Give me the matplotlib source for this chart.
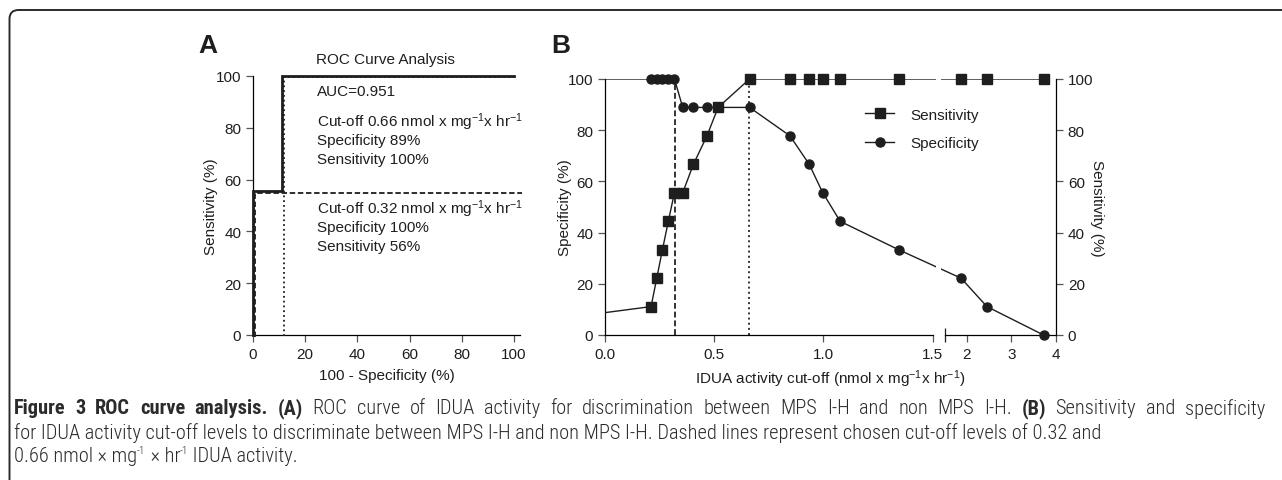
import numpy as np
import matplotlib
matplotlib.use("Agg")
import matplotlib.pyplot as plt
from matplotlib import font_manager
from matplotlib.font_manager import FontProperties
from matplotlib.lines import Line2D
from matplotlib.patches import FancyBboxPatch, Rectangle
from matplotlib.transforms import IdentityTransform, offset_copy

# panel A: ROC curve
roc_fpr = [0, 0, 11.1, 11.1, 100]
roc_tpr = [0, 55.6, 55.6, 100, 100]
# chosen cut-offs as (100 - specificity, sensitivity)
cut_fpr = [0.0, 11.1]
cut_tpr = [55.6, 100]

# panel B: sensitivity / specificity vs IDUA cut-off
cutoff = [-0.78, 0.211, 0.237, 0.263, 0.290, 0.318, 0.356, 0.405, 0.467, 0.518,
          0.662, 0.847, 0.935, 0.997, 1.077, 1.345, 1.87, 2.45, 3.72]
sensitivity = [0, 11.1, 22.2, 33.3, 44.4, 55.6, 55.6, 66.7, 77.8, 88.9,
               100, 100, 100, 100, 100, 100, 100, 100, 100]
specificity = [100, 100, 100, 100, 100, 100, 88.9, 88.9, 88.9, 88.9,
               88.9, 77.8, 66.7, 55.6, 44.4, 33.3, 22.2, 11.1, 0]
chosen_cutoffs = [0.32, 0.66]
b_xticks = [0, 0.5, 1.0, 1.5, 2, 3, 4]
b_xticklabels = ["0.0", "0.5", "1.0", "1.5", "2", "3", "4"]

plt.rcParams["font.family"] = ["Liberation Sans", "DejaVu Sans"]
plt.rcParams["mathtext.fontset"] = "custom"
plt.rcParams["mathtext.rm"] = "Liberation Sans"
plt.rcParams["mathtext.it"] = "Liberation Sans:italic"
plt.rcParams["axes.linewidth"] = 0.9

W, H = 1282, 481
fig = plt.figure(figsize=(W / 100, H / 100), dpi=100)
ink = "#1e1e1e"
fs = 11

# ---- panel A ----
axA = fig.add_axes([253 / W, (H - 336) / H, (520 - 253) / W, (336 - 77) / H])
axA.set_xlim(0, 102.3)
axA.set_ylim(0, 100)
axA.spines[["top", "right"]].set_visible(False)
axA.spines["left"].set_bounds(0, 100)
axA.set_xticks(range(0, 101, 20))
axA.set_yticks(range(0, 101, 20))
axA.tick_params(labelsize=fs, length=5, width=0.9, color="#555555", labelcolor=ink)
axA.set_xlabel("100 - Specificity (%)", fontsize=fs, color=ink, labelpad=5)
axA.set_ylabel("Sensitivity (%)", fontsize=fs, color=ink, labelpad=-1.5)

axA.plot(roc_fpr, roc_tpr, color=ink, lw=2.0, clip_on=False, zorder=4,
         solid_joinstyle="miter")
xmax = axA.get_xlim()[1]
sh_dot = offset_copy(axA.transData, fig=fig, x=1.6, y=-1.4, units="dots")
sh_dash = offset_copy(axA.transData, fig=fig, x=1.8, y=-1.8, units="dots")
# 0.66 cut-off (dotted)
axA.plot([cut_fpr[1], cut_fpr[1], 100], [0, cut_tpr[1], cut_tpr[1]], ls=":",
         color=ink, lw=1.3, transform=sh_dot, clip_on=False, zorder=3)
# 0.32 cut-off (dashed)
axA.plot([cut_fpr[0], cut_fpr[0], xmax], [0, cut_tpr[0], cut_tpr[0]], ls=(0, (3, 1.5)),
         color=ink, lw=1.3, transform=sh_dash, clip_on=False, zorder=3)

axA.text(24, 106.6, "ROC Curve Analysis", fontsize=fs, color=ink, va="center")
txt_x = 24.5
sup = r"$^{\mathrm{-1}}$"
axA.text(txt_x, 94.3, "AUC=0.951", fontsize=fs, color=ink, va="center")
axA.text(txt_x, 82.7, "Cut-off 0.66 nmol x mg" + sup + "x hr" + sup, fontsize=fs, color=ink, va="center")
axA.text(txt_x, 75.4, "Specificity 89%", fontsize=fs, color=ink, va="center")
axA.text(txt_x, 68.1, "Sensitivity 100%", fontsize=fs, color=ink, va="center")
axA.text(txt_x, 49.0, "Cut-off 0.32 nmol x mg" + sup + "x hr" + sup, fontsize=fs, color=ink, va="center")
axA.text(txt_x, 41.7, "Specificity 100%", fontsize=fs, color=ink, va="center")
axA.text(txt_x, 34.4, "Sensitivity 56%", fontsize=fs, color=ink, va="center")

# ---- panel B (broken x axis) ----
k = 44.5 / 218.0
g = 12.0 / 218.0


def fwd(x):
    x = np.asarray(x, dtype=float)
    return np.where(x <= 1.5, x, 1.5 + g + (x - 1.5) * k)


def inv(u):
    u = np.asarray(u, dtype=float)
    return np.where(u <= 1.5, u, np.where(u < 1.5 + g, 1.5, 1.5 + (u - 1.5 - g) / k))


axB = fig.add_axes([605 / W, (H - 336) / H, (1056 - 605) / W, (336 - 80) / H])
axB.set_xscale("function", functions=(fwd, inv))
axB.set_xlim(0, 4)
axB.set_ylim(0, 100)
axB.spines[["top", "right"]].set_visible(False)
axB.spines["left"].set_bounds(0, 100)
axB.spines["bottom"].set_bounds(0, 1.5)
axB.plot([1.5 + 1e-9, 4], [0, 0], color="black", lw=0.9, transform=axB.get_xaxis_transform(),
         clip_on=False, zorder=3)
axB.set_xticks(b_xticks)
axB.set_xticklabels(b_xticklabels)
axB.set_xticks([1.5, 1.5 + 1e-9], minor=True)
axB.tick_params(axis="x", which="minor", direction="inout", length=10, width=0.9, color=ink)
axB.set_yticks(range(0, 101, 20))
axB.tick_params(which="major", labelsize=fs, length=5, width=0.9, color="#555555", labelcolor=ink)
axB.set_ylabel("Specificity (%)", fontsize=fs, color=ink, labelpad=-3)
axB.set_xlabel("IDUA activity cut-off (nmol x mg" + sup + "x hr" + sup + ")", fontsize=fs,
               color=ink, labelpad=5)

for c, ls in zip(chosen_cutoffs, [(0, (3, 1.5)), ":"]):
    axB.plot([c, c], [0, 100], ls=ls, color="#333333", lw=1.4, zorder=2)

cx = np.array(cutoff)
shown = cx >= 0
series = [(sensitivity, "s", "Sensitivity"), (specificity, "o", "Specificity")]
handles = []
for vals, mk, name in series:
    vals = np.array(vals)
    axB.plot(cx, vals, color=ink, lw=1.0, zorder=3)
    axB.plot(cx[shown], vals[shown], ls="none", marker=mk, ms=6.5, color=ink, zorder=4,
             clip_on=False)
    handles.append(Line2D([], [], color=ink, lw=1.0, marker=mk, ms=6.5, label=name))
# hide data lines inside the axis break
axB.add_patch(Rectangle((0.7333, 0.006), 0.0117, 1.0, transform=axB.transAxes,
                        facecolor="white", edgecolor="none", zorder=3.5))
axB.set_xlim(0, 4)

axB.legend(handles=handles, loc="upper left", bbox_to_anchor=(0.5765, 0.888), frameon=False,
           fontsize=fs, handlelength=1.9, handletextpad=1.1, labelspacing=0.95, borderpad=0,
           borderaxespad=0, labelcolor=ink)

axB2 = axB.twinx()
axB2.set_ylim(0, 100)
axB2.spines[["top", "left", "bottom"]].set_visible(False)
axB2.spines["right"].set_bounds(0, 100)
axB2.set_yticks(range(0, 101, 20))
axB2.tick_params(labelsize=fs, length=5, width=0.9, color="#555555", labelcolor=ink)
axB2.set_ylabel("Sensitivity (%)", fontsize=fs, color=ink, rotation=270, labelpad=7.5)

fig.text(208 / W, 1 - 46 / H, "A", fontsize=19, weight="bold", color=ink, ha="center", va="center")
fig.text(561 / W, 1 - 46 / H, "B", fontsize=19, weight="bold", color=ink, ha="center", va="center")

# ---- caption (condensed font) ----
names = {f.name for f in font_manager.fontManager.ttflist}
cap_family = None
for fam in ["Roboto Condensed", "PT Sans Narrow", "Fira Sans Condensed", "Archivo Narrow"]:
    if fam in names:
        cap_family = fam
        break


def cap_prop(bold, size):
    if cap_family:
        return FontProperties(family=cap_family, weight=700 if bold else 300, size=size)
    return FontProperties(family="Open Sans", stretch="condensed",
                          weight=700 if bold else 300, size=size)


# segments: (text, kind) with kind b = bold, r = regular, s = superscript
cap_lines = [
    [("Figure 3 ROC curve analysis.", "b"), (" ", "r"), ("(A)", "b"),
     (" ROC curve of IDUA activity for discrimination between MPS I-H and non MPS I-H. ", "r"),
     ("(B)", "b"), (" Sensitivity and specificity", "r")],
    [("for IDUA activity cut-off levels to discriminate between MPS I-H and non MPS I-H. "
      "Dashed lines represent chosen cut-off levels of 0.32 and", "r")],
    [("0.66 nmol \u00d7 mg", "r"), ("-1", "s"), (" \u00d7 hr", "r"), ("-1", "s"),
     (" IDUA activity.", "r")],
]
cap_y = [409, 433, 457]
cap_justify = [1265, None, None]
cap_color = "#2b2b2b"
renderer = fig.canvas.get_renderer()


def put_line(segs, y, size):
    x = 14.0
    made = []
    for s, kind in segs:
        if kind == "s":
            t = fig.text(x / W, 1 - (y - 6) / H, s, fontproperties=cap_prop(False, size * 0.55),
                         color=cap_color, va="center")
        else:
            t = fig.text(x / W, 1 - y / H, s, fontproperties=cap_prop(kind == "b", size),
                         color=cap_color, va="center")
        x += t.get_window_extent(renderer).width
        made.append(t)
    return x - 14.0, made


def put_justified(segs, y, size, right):
    # split into words and spread the spare room over the word gaps
    words = []
    for s, kind in segs:
        for w in s.split(" "):
            if w:
                words.append((w, kind))
    made = []
    for w, kind in words:
        made.append(fig.text(0, 1 - y / H, w, fontproperties=cap_prop(kind == "b", size),
                             color=cap_color, va="center"))
    widths = [t.get_window_extent(renderer).width for t in made]
    gap = (right - 14.0 - sum(widths)) / (len(words) - 1)
    x = 14.0
    for t, wd in zip(made, widths):
        t.set_x(x / W)
        x += wd + gap


w0, tmp = put_line(cap_lines[1], cap_y[1], 12)
for t in tmp:
    t.remove()
cap_size = 12 * 1082.0 / w0
for segs, y, right in zip(cap_lines, cap_y, cap_justify):
    if right:
        put_justified(segs, y, cap_size, right)
    else:
        put_line(segs, y, cap_size)

# border with rounded top-left corner
fig.patches.append(FancyBboxPatch((9.5, -30), 1320, H - 11 + 30,
                                  boxstyle="round,pad=0,rounding_size=9",
                                  transform=IdentityTransform(), facecolor="none",
                                  edgecolor="#2a2a2a", lw=1.4, figure=fig))

fig.savefig("out.png", dpi=100)
